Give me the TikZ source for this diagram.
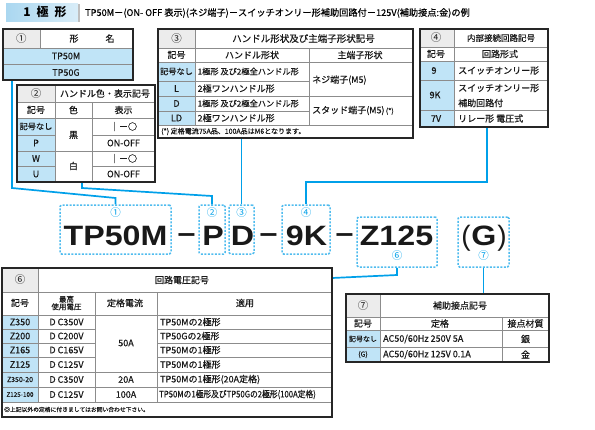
\documentclass[tikz,border=0pt]{standalone}
\usepackage{fontspec}
\usepackage{graphicx}
\newfontfamily\jp{Noto Sans CJK JP}[FakeBold=0.45]
\newfontfamily\jpb{Noto Sans CJK JP}
\newfontfamily\codefont{Liberation Sans}
\definecolor{cb}{RGB}{192,228,247}
\definecolor{cg}{RGB}{236,236,236}
\definecolor{conblue}{RGB}{0,160,233}
\definecolor{dotblue}{RGB}{80,188,238}
\definecolor{hdrblue}{RGB}{170,215,240}
\tikzset{
  il/.style={draw=black!45, line width=0.5pt},
  ol/.style={draw=black!85, line width=1.1pt},
  t/.style={font=\jp\fontsize{9}{10.5}\selectfont, inner sep=0pt, text=black!90},
  tl/.style={t, anchor=west},
  ts/.style={font=\jp\fontsize{8.2}{9}\selectfont},
  tc/.style={font=\jpb\fontsize{10.5}{10.5}\selectfont, inner sep=0pt, text=black!90},
  conn/.style={draw=conblue, line width=1.7pt},
  dbox/.style={draw=dotblue, line width=1.5pt, dash pattern=on 2pt off 1.5pt, rounded corners=1.5pt, inner sep=0pt},
  bcirc/.style={font=\jpb\fontsize{10.5}{10.5}\selectfont, inner sep=0pt, text=conblue},
  big/.style={font=\codefont\bfseries\fontsize{28}{28}\selectfont, inner sep=0pt, anchor=base, text=black!90},
}
\begin{document}
\begin{tikzpicture}[x=1pt,y=-1pt]
\useasboundingbox (0,0) rectangle (595,429);
% ---------- header
\shade[left color=hdrblue, right color=hdrblue!45] (6,3) rectangle (78,21);
\fill[black!25] (78,4) rectangle (80,22);
\node[font=\jpb\bfseries\fontsize{12}{12}\selectfont, inner sep=0pt] (hd) at (45,12) {1\hspace{0.5em}極\hspace{0.5em}形};
\node[font=\jp\fontsize{9.2}{10}\selectfont, inner sep=0pt, anchor=west] (ttl) at (85,13) {TP50M－(ON- OFF 表示)(ネジ端子)－スイッチオンリー形補助回路付－125V(補助接点:金)の例};
% ---------- connectors
\coordinate (t1a) at (12,80);
\coordinate (t2a) at (82,182);
\coordinate (t3a) at (241.5,138);
\coordinate (t4a) at (487,127);
\coordinate (t6a) at (332,278);
\coordinate (t7a) at (483.5,294);
\node[dbox, minimum width=111pt, minimum height=49pt] (b1) at (115.5,229.5) {};
\node[dbox, minimum width=26pt, minimum height=49pt] (b2) at (212,229.5) {};
\node[dbox, minimum width=25pt, minimum height=49pt] (b3) at (241.5,229.5) {};
\node[dbox, minimum width=48pt, minimum height=49pt] (b4) at (306,229.5) {};
\node[dbox, minimum width=80pt, minimum height=50pt] (b6) at (397,242) {};
\node[dbox, minimum width=51pt, minimum height=50pt] (b7) at (483.5,242) {};
\draw[conn] (t1a) -- (12,188) -- (115.5,198) -- (b1.north);
\draw[conn] (t2a) -- (82,188) -- (212,196) -- (b2.north);
\draw[conn] (t3a) -- (b3.north);
\draw[conn] (t4a) -- (487,182) -- (306,182) -- (b4.north);
\draw[conn] (b6.south) -- (397,275) -- (t6a);
\draw[conn] (b7.south) -- (t7a);
\node[bcirc] (n1) at (115.5,213) {①};
\node[bcirc] (n2) at (212,213) {②};
\node[bcirc] (n3) at (241.5,213) {③};
\node[bcirc] (n4) at (306,213) {④};
\node[bcirc] (n6) at (397,256) {⑥};
\node[bcirc] (n7) at (483.5,256) {⑦};
% ---------- big code
\node[big] (k1) at (115.5,245) {\scalebox{1.15}[1]{TP50M}};
\node[big] (k2) at (186.5,242) {\scalebox{1.15}[1]{–}};
\node[big] (k3) at (213,245) {\scalebox{1.15}[1]{P}};
\node[big] (k4) at (242.5,245) {\scalebox{1.15}[1]{D}};
\node[big] (k5) at (268.5,242) {\scalebox{1.15}[1]{–}};
\node[big] (k6) at (306.5,245) {\scalebox{1.15}[1]{9K}};
\node[big] (k7) at (344.5,242) {\scalebox{1.15}[1]{–}};
\node[big] (k8) at (396.5,245) {\scalebox{1.15}[1]{Z125}};
\node[big, font=\codefont\fontsize{28}{28}\selectfont] (k9) at (466,245) {(};
\node[big] (k10) at (484,245) {\scalebox{1.15}[1]{G}};
\node[big, font=\codefont\fontsize{28}{28}\selectfont] (k11) at (502,245) {)};
% ---------- table 1
\fill[cb] (3,48) rectangle (133,80);
\fill[cg] (3,29) rectangle (40,48);
\draw[il] (3,48) -- (133,48) (3,64) -- (133,64) (40,29) -- (40,48);
\draw[ol] (3,29) rectangle (133,80);
\node[tc] (a0) at (21.5,38.5) {①};
\node[t] (a1) at (92,38.5) {形\hspace{3em}名};
\node[t] (a2) at (66,56) {TP50M};
\node[t] (a3) at (66,72.5) {TP50G};
% ---------- table 2
\fill[white] (17,85) rectangle (155,182);
\fill[cg] (17,85) rectangle (55,102);
\fill[cb] (17,118) rectangle (55,182);
\draw[il] (17,102) -- (155,102) (17,118) -- (155,118) (17,151) -- (155,151)
  (17,135) -- (55,135) (92,135) -- (155,135) (17,166) -- (55,166) (92,166) -- (155,166)
  (55,85) -- (55,182) (92,102) -- (92,182);
\draw[ol] (17,85) rectangle (155,182);
\node[tc] (b20) at (36,93.5) {②};
\node[t] (b21) at (105,93.5) {ハンドル色・表示記号};
\node[t] (b22) at (36,110) {記号};
\node[t] (b23) at (73.5,110) {色};
\node[t] (b24) at (123.5,110) {表示};
\node[t, ts] (b25) at (36,126.5) {記号なし};
\node[t] (b26) at (36,143) {P};
\node[t] (b27) at (36,158.5) {W};
\node[t] (b28) at (36,174) {U};
\node[t] (b29) at (73.5,135) {黒};
\node[t] (b30) at (73.5,166) {白};
\node[t] (b31) at (123.5,126.5) {｜－○};
\node[t] (b32) at (123.5,143) {ON-OFF};
\node[t] (b33) at (123.5,158.5) {｜－○};
\node[t] (b34) at (123.5,174) {ON-OFF};
% ---------- table 3
\fill[cg] (158,29) rectangle (195,48);
\fill[cb] (158,62) rectangle (195,125);
\draw[il] (158,48) -- (413,48) (158,62) -- (413,62) (158,96) -- (413,96) (158,125) -- (413,125)
  (158,81) -- (309,81) (158,111) -- (309,111) (195,29) -- (195,125) (309,48) -- (309,125);
\draw[ol] (158,29) rectangle (413,138);
\node[tc] (c0) at (176.5,38.5) {③};
\node[t, font=\jp\fontsize{9.5}{10}\selectfont] (c1) at (303.5,38.5) {ハンドル形状及び主端子形状記号};
\node[t] (c2) at (176.5,55) {記号};
\node[t] (c3) at (252,55) {ハンドル形状};
\node[t] (c4) at (360,55) {主端子形状};
\node[t, ts] (c5) at (176.5,71.5) {記号なし};
\node[t] (c6) at (176.5,88.5) {L};
\node[t] (c7) at (176.5,103.5) {D};
\node[t] (c8) at (176.5,118) {LD};
\node[tl, ts] (c9) at (197.5,71.5) {1極形 及び2極全ハンドル形};
\node[tl] (c10) at (197.5,88.5) {2極ワンハンドル形};
\node[tl, ts] (c11) at (197.5,103.5) {1極形 及び2極全ハンドル形};
\node[tl] (c12) at (197.5,118) {2極ワンハンドル形};
\node[tl] (c13) at (312,80) {ネジ端子(M5)};
\node[tl] (c14) at (312,110.5) {スタッド端子(M5){\fontsize{7}{7}\selectfont\,(*)}};
\node[tl, font=\jp\fontsize{7}{7}\selectfont] (c15) at (161,131.5) {(*) 定格電流75A品、100A品はM6となります。};
% ---------- table 4
\fill[cg] (420,29) rectangle (454,47);
\fill[cb] (420,61) rectangle (454,127);
\draw[il] (420,47) -- (548,47) (420,61) -- (548,61) (420,80) -- (548,80) (420,110) -- (548,110)
  (454,29) -- (454,127);
\draw[ol] (420,29) rectangle (548,127);
\node[tc] (d0) at (436,38) {④};
\node[t, font=\jp\fontsize{8.5}{10}\selectfont] (d1) at (501,38) {内部接続回路記号};
\node[t] (d2) at (436,54) {記号};
\node[t] (d3) at (500,54) {回路形式};
\node[t] (d4) at (434,70.5) {9};
\node[t] (d5) at (435,95) {9K};
\node[t] (d6) at (436,118.5) {7V};
\node[tl] (d7) at (458,70.5) {スイッチオンリー形};
\node[tl] (d8) at (458,88) {スイッチオンリー形};
\node[tl] (d9) at (458,103) {補助回路付};
\node[tl] (d10) at (458,118.5) {リレー形 電圧式};
% ---------- table 6
\fill[cg] (2,268) rectangle (38,292);
\fill[cb] (2,315) rectangle (38,402);
\draw[il] (2,292) -- (332,292) (2,315) -- (332,315) (2,372) -- (332,372) (2,387) -- (332,387) (2,402) -- (332,402)
  (2,329) -- (95,329) (157,329) -- (332,329) (2,343) -- (95,343) (157,343) -- (332,343)
  (2,357) -- (95,357) (157,357) -- (332,357)
  (38,268) -- (38,402) (95,292) -- (95,402) (157,292) -- (157,402);
\draw[ol] (2,268) rectangle (332,417);
\node[tc] (e0) at (20,280) {⑥};
\node[t] (e1) at (182,280) {回路電圧記号};
\node[t] (e2) at (20,303) {記号};
\node[t, align=center, font=\jp\fontsize{7.5}{7.5}\selectfont] (e3) at (66.5,303) {最高\\使用電圧};
\node[t] (e4) at (125,303) {定格電流};
\node[t] (e5) at (245,303) {適用};
\node[t] (e6) at (20,322) {Z350};
\node[t] (e7) at (20,336) {Z200};
\node[t] (e8) at (20,350) {Z165};
\node[t] (e9) at (20,364.5) {Z125};
\node[t, font=\jp\fontsize{7}{7}\selectfont] (e10) at (20,379.5) {Z350-20};
\node[t, font=\jp\fontsize{6.3}{7}\selectfont] (e11) at (20,394.5) {Z125-100};
\node[t] (e12) at (66.5,322) {D\hspace{2pt}C350V};
\node[t] (e13) at (66.5,336) {D\hspace{2pt}C200V};
\node[t] (e14) at (66.5,350) {D\hspace{2pt}C165V};
\node[t] (e15) at (66.5,364.5) {D\hspace{2pt}C125V};
\node[t] (e16) at (66.5,379.5) {D\hspace{2pt}C350V};
\node[t] (e17) at (66.5,394.5) {D\hspace{2pt}C125V};
\node[t] (e18) at (126,343) {50A};
\node[t] (e19) at (126,379.5) {20A};
\node[t] (e20) at (126,394.5) {100A};
\node[tl] (e21) at (160,322) {TP50Mの2極形};
\node[tl] (e22) at (160,336) {TP50Gの2極形};
\node[tl] (e23) at (160,350) {TP50Mの1極形};
\node[tl] (e24) at (160,364.5) {TP50Mの1極形};
\node[tl] (e25) at (160,379.5) {TP50Mの1極形(20A定格)};
\node[tl] (e26) at (159,394.5) {\scalebox{0.86}[1]{TP50Mの1極形及びTP50Gの2極形(100A定格)}};
\node[tl, font=\jp\fontsize{5.8}{7}\selectfont] (e27) at (4,409.5) {◎上記以外の定格に付きましてはお問い合わせ下さい。};
% ---------- table 7
\fill[white] (346,294) rectangle (549,362);
\fill[cg] (346,294) rectangle (380,317);
\fill[cb] (346,330) rectangle (380,362);
\draw[il] (346,317) -- (549,317) (346,330) -- (549,330) (346,347) -- (549,347)
  (380,294) -- (380,362) (502,317) -- (502,362);
\draw[ol] (346,294) rectangle (549,362);
\node[tc] (f0) at (363,305.5) {⑦};
\node[t] (f1) at (460,305.5) {補助接点記号};
\node[t] (f2) at (363,323.5) {記号};
\node[t] (f3) at (440,323.5) {定格};
\node[t] (f4) at (525.5,323.5) {接点材質};
\node[t, font=\jp\fontsize{7}{7}\selectfont] (f5) at (363,339) {記号なし};
\node[t, font=\jp\fontsize{7}{7}\selectfont] (f6) at (363,354.5) {(G)};
\node[tl] (f7) at (383,339) {AC50/60Hz 250V 5A};
\node[tl] (f8) at (383,354.5) {AC50/60Hz 125V 0.1A};
\node[t] (f9) at (525.5,339) {銀};
\node[t] (f10) at (525.5,354.5) {金};
\end{tikzpicture}
\end{document}
